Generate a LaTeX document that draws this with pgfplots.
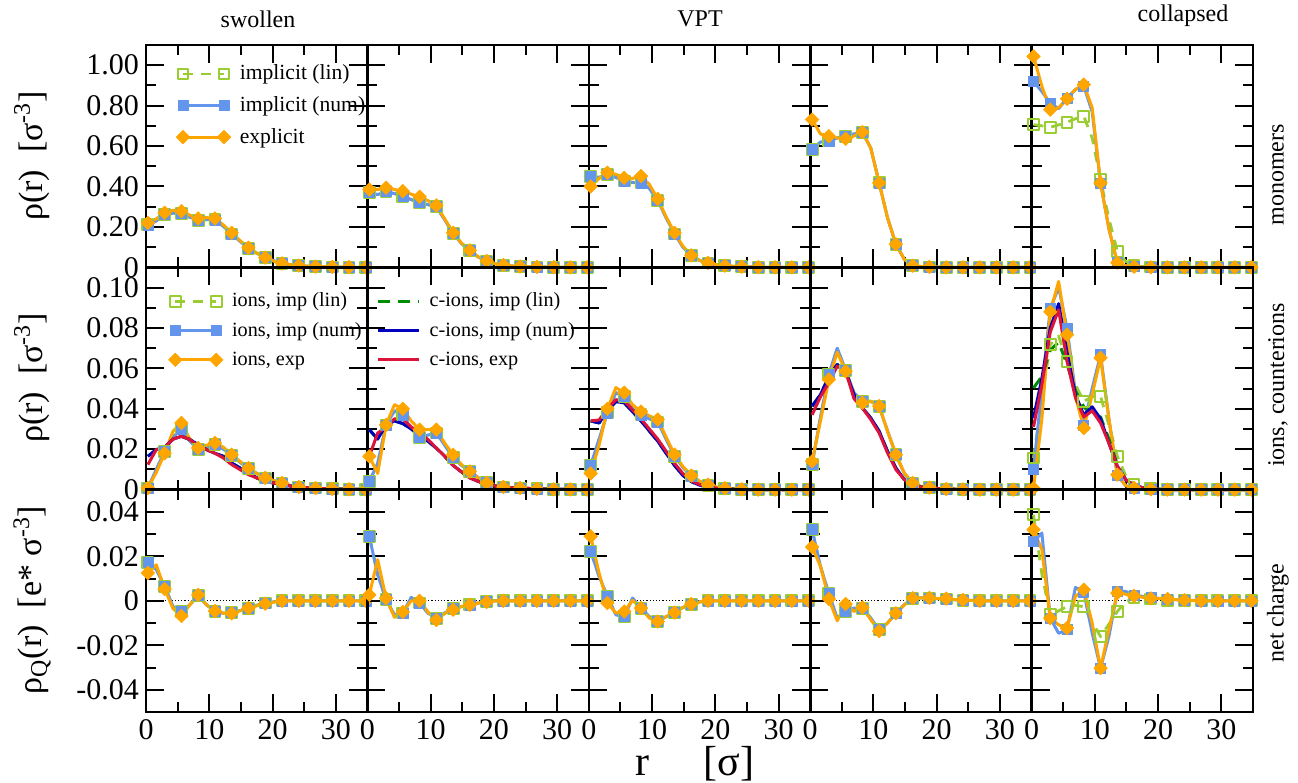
\documentclass[border=0pt]{standalone}
\usepackage{fontspec}
\setmainfont{Liberation Serif}
\usepackage{pgfplots}
\usepackage{pgfplotstable}
\pgfplotsset{compat=1.18}
\definecolor{ygreen}{RGB}{154,205,50}
\definecolor{cblue}{RGB}{100,149,237}
\definecolor{orng}{RGB}{255,165,0}
\definecolor{dgreen}{RGB}{0,140,0}
\definecolor{dblue}{RGB}{0,0,190}
\definecolor{crim}{RGB}{220,20,60}

% ---------- monomers ----------
\pgfplotstableread{
r lin num exp
0.300 0.210 0.210 0.220
1.625 0.230 0.230 0.240
2.950 0.260 0.260 0.270
4.275 0.268 0.268 0.282
5.600 0.265 0.265 0.278
6.925 0.248 0.248 0.258
8.250 0.232 0.232 0.242
9.575 0.236 0.236 0.246
10.900 0.235 0.235 0.242
12.225 0.203 0.203 0.210
13.550 0.165 0.165 0.171
14.875 0.128 0.128 0.132
16.200 0.095 0.095 0.097
17.525 0.070 0.070 0.070
18.850 0.050 0.050 0.048
20.175 0.033 0.033 0.031
21.500 0.020 0.020 0.020
22.825 0.013 0.013 0.013
24.150 0.009 0.009 0.009
25.475 0.006 0.006 0.006
26.800 0.004 0.004 0.004
28.125 0.003 0.003 0.003
29.450 0.002 0.002 0.002
30.775 0.001 0.001 0.001
32.100 0.001 0.001 0.001
33.425 0.000 0.000 0.000
34.750 0.000 0.000 0.000
}\tTa
\pgfplotstableread{
r lin num exp
0.300 0.369 0.369 0.385
1.625 0.360 0.360 0.385
2.950 0.374 0.374 0.394
4.275 0.365 0.365 0.385
5.600 0.352 0.352 0.377
6.925 0.335 0.335 0.362
8.250 0.322 0.322 0.349
9.575 0.310 0.310 0.330
10.900 0.300 0.300 0.306
12.225 0.235 0.235 0.240
13.550 0.168 0.168 0.171
14.875 0.118 0.118 0.120
16.200 0.083 0.083 0.084
17.525 0.051 0.051 0.052
18.850 0.030 0.030 0.031
20.175 0.018 0.018 0.018
21.500 0.011 0.011 0.011
22.825 0.007 0.007 0.007
24.150 0.004 0.004 0.004
25.475 0.003 0.003 0.003
26.800 0.002 0.002 0.002
28.125 0.001 0.001 0.001
29.450 0.001 0.001 0.001
30.775 0.000 0.000 0.000
32.100 0.000 0.000 0.000
33.425 0.000 0.000 0.000
34.750 0.000 0.000 0.000
}\tTb
\pgfplotstableread{
r lin num exp
0.300 0.451 0.451 0.400
1.625 0.445 0.445 0.440
2.950 0.460 0.460 0.468
4.275 0.445 0.445 0.460
5.600 0.427 0.427 0.443
6.925 0.420 0.420 0.440
8.250 0.418 0.418 0.451
9.575 0.390 0.390 0.410
10.900 0.330 0.330 0.339
12.225 0.245 0.245 0.250
13.550 0.165 0.165 0.171
14.875 0.100 0.100 0.105
16.200 0.058 0.058 0.059
17.525 0.034 0.034 0.035
18.850 0.021 0.021 0.022
20.175 0.013 0.013 0.013
21.500 0.008 0.008 0.008
22.825 0.005 0.005 0.005
24.150 0.003 0.003 0.003
25.475 0.002 0.002 0.002
26.800 0.001 0.001 0.001
28.125 0.000 0.000 0.000
29.450 0.000 0.000 0.000
30.775 0.000 0.000 0.000
32.100 0.000 0.000 0.000
33.425 0.000 0.000 0.000
34.750 0.000 0.000 0.000
}\tTc
\pgfplotstableread{
r lin num exp
0.300 0.583 0.583 0.731
1.625 0.620 0.620 0.660
2.950 0.625 0.625 0.649
4.275 0.640 0.640 0.640
5.600 0.649 0.649 0.636
6.925 0.660 0.660 0.650
8.250 0.669 0.669 0.669
9.575 0.590 0.590 0.590
10.900 0.418 0.418 0.418
12.225 0.245 0.245 0.245
13.550 0.114 0.114 0.114
14.875 0.040 0.040 0.040
16.200 0.008 0.008 0.008
17.525 0.004 0.004 0.004
18.850 0.002 0.002 0.002
20.175 0.001 0.001 0.001
21.500 0.000 0.000 0.000
22.825 0.000 0.000 0.000
24.150 0.000 0.000 0.000
25.475 0.000 0.000 0.000
26.800 0.000 0.000 0.000
28.125 0.000 0.000 0.000
29.450 0.000 0.000 0.000
30.775 0.000 0.000 0.000
32.100 0.000 0.000 0.000
33.425 0.000 0.000 0.000
34.750 0.000 0.000 0.000
}\tTd
\pgfplotstableread{
r lin num exp
0.300 0.706 0.920 1.044
1.625 0.700 0.870 0.896
2.950 0.693 0.813 0.780
4.275 0.705 0.785 0.790
5.600 0.718 0.836 0.834
6.925 0.735 0.880 0.880
8.250 0.748 0.897 0.904
9.575 0.640 0.770 0.790
10.900 0.435 0.418 0.418
12.225 0.240 0.190 0.190
13.550 0.080 0.023 0.023
14.875 0.030 0.008 0.008
16.200 0.010 0.003 0.003
17.525 0.004 0.001 0.001
18.850 0.002 0.000 0.000
20.175 0.001 0.000 0.000
21.500 0.000 0.000 0.000
22.825 0.000 0.000 0.000
24.150 0.000 0.000 0.000
25.475 0.000 0.000 0.000
26.800 0.000 0.000 0.000
28.125 0.000 0.000 0.000
29.450 0.000 0.000 0.000
30.775 0.000 0.000 0.000
32.100 0.000 0.000 0.000
33.425 0.000 0.000 0.000
34.750 0.000 0.000 0.000
}\tTe

% ---------- ions, counterions ----------
\pgfplotstableread{
r il in ie cl cn ce
0.300 0.0008 0.0008 0.0008 0.0165 0.0165 0.0124
1.625 0.0100 0.0100 0.0085 0.0198 0.0198 0.0198
2.950 0.0190 0.0190 0.0180 0.0210 0.0210 0.0210
4.275 0.0260 0.0260 0.0289 0.0250 0.0250 0.0250
5.600 0.0300 0.0300 0.0330 0.0264 0.0264 0.0264
6.925 0.0240 0.0240 0.0250 0.0248 0.0248 0.0248
8.250 0.0198 0.0198 0.0206 0.0223 0.0223 0.0215
9.575 0.0210 0.0210 0.0220 0.0198 0.0198 0.0198
10.900 0.0223 0.0223 0.0231 0.0180 0.0180 0.0180
12.225 0.0200 0.0200 0.0210 0.0165 0.0165 0.0157
13.550 0.0170 0.0170 0.0173 0.0132 0.0132 0.0124
14.875 0.0135 0.0135 0.0140 0.0107 0.0107 0.0099
16.200 0.0105 0.0105 0.0107 0.0083 0.0083 0.0074
17.525 0.0080 0.0080 0.0080 0.0058 0.0058 0.0058
18.850 0.0058 0.0058 0.0058 0.0041 0.0041 0.0041
20.175 0.0045 0.0045 0.0045 0.0033 0.0033 0.0033
21.500 0.0033 0.0033 0.0033 0.0025 0.0025 0.0025
22.825 0.0020 0.0020 0.0020 0.0018 0.0018 0.0018
24.150 0.0013 0.0013 0.0013 0.0013 0.0013 0.0013
25.475 0.0010 0.0010 0.0010 0.0010 0.0010 0.0010
26.800 0.0008 0.0008 0.0008 0.0008 0.0008 0.0008
28.125 0.0005 0.0005 0.0005 0.0005 0.0005 0.0005
29.450 0.0004 0.0004 0.0004 0.0004 0.0004 0.0004
30.775 0.0003 0.0003 0.0003 0.0003 0.0003 0.0003
32.100 0.0002 0.0002 0.0002 0.0002 0.0002 0.0002
33.425 0.0001 0.0001 0.0001 0.0001 0.0001 0.0001
34.750 0.0001 0.0001 0.0001 0.0001 0.0001 0.0001
}\tMa
\pgfplotstableread{
r il in ie cl cn ce
0.300 0.0041 0.0041 0.0165 0.0297 0.0297 0.0165
1.625 0.0130 0.0130 0.0080 0.0250 0.0250 0.0280
2.950 0.0320 0.0320 0.0320 0.0320 0.0320 0.0310
4.275 0.0390 0.0390 0.0420 0.0340 0.0340 0.0350
5.600 0.0370 0.0370 0.0400 0.0327 0.0327 0.0350
6.925 0.0300 0.0300 0.0340 0.0300 0.0300 0.0310
8.250 0.0260 0.0260 0.0297 0.0272 0.0272 0.0281
9.575 0.0270 0.0270 0.0297 0.0239 0.0239 0.0248
10.900 0.0280 0.0280 0.0297 0.0206 0.0206 0.0206
12.225 0.0220 0.0220 0.0230 0.0165 0.0165 0.0165
13.550 0.0160 0.0160 0.0173 0.0120 0.0120 0.0120
14.875 0.0120 0.0120 0.0124 0.0088 0.0088 0.0088
16.200 0.0090 0.0090 0.0090 0.0058 0.0058 0.0058
17.525 0.0060 0.0060 0.0058 0.0041 0.0041 0.0041
18.850 0.0035 0.0035 0.0033 0.0026 0.0026 0.0026
20.175 0.0020 0.0020 0.0020 0.0018 0.0018 0.0018
21.500 0.0013 0.0013 0.0013 0.0013 0.0013 0.0013
22.825 0.0010 0.0010 0.0010 0.0010 0.0010 0.0010
24.150 0.0008 0.0008 0.0008 0.0008 0.0008 0.0008
25.475 0.0006 0.0006 0.0006 0.0006 0.0006 0.0006
26.800 0.0004 0.0004 0.0004 0.0004 0.0004 0.0004
28.125 0.0003 0.0003 0.0003 0.0003 0.0003 0.0003
29.450 0.0002 0.0002 0.0002 0.0002 0.0002 0.0002
30.775 0.0001 0.0001 0.0001 0.0001 0.0001 0.0001
32.100 0.0001 0.0001 0.0001 0.0001 0.0001 0.0001
33.425 0.0000 0.0000 0.0000 0.0000 0.0000 0.0000
34.750 0.0000 0.0000 0.0000 0.0000 0.0000 0.0000
}\tMb
\pgfplotstableread{
r il in ie cl cn ce
0.300 0.0120 0.0120 0.0080 0.0340 0.0340 0.0340
1.625 0.0250 0.0250 0.0220 0.0330 0.0330 0.0345
2.950 0.0380 0.0380 0.0400 0.0390 0.0390 0.0400
4.275 0.0480 0.0480 0.0505 0.0435 0.0435 0.0445
5.600 0.0460 0.0460 0.0480 0.0430 0.0430 0.0440
6.925 0.0400 0.0400 0.0420 0.0385 0.0385 0.0395
8.250 0.0370 0.0370 0.0386 0.0340 0.0340 0.0350
9.575 0.0350 0.0350 0.0365 0.0290 0.0290 0.0300
10.900 0.0335 0.0335 0.0347 0.0240 0.0240 0.0250
12.225 0.0250 0.0250 0.0260 0.0180 0.0180 0.0190
13.550 0.0165 0.0165 0.0173 0.0120 0.0120 0.0130
14.875 0.0110 0.0110 0.0115 0.0070 0.0070 0.0080
16.200 0.0068 0.0068 0.0070 0.0040 0.0040 0.0045
17.525 0.0040 0.0040 0.0042 0.0022 0.0022 0.0025
18.850 0.0022 0.0022 0.0025 0.0012 0.0012 0.0014
20.175 0.0012 0.0012 0.0013 0.0006 0.0006 0.0007
21.500 0.0007 0.0007 0.0007 0.0003 0.0003 0.0004
22.825 0.0004 0.0004 0.0004 0.0002 0.0002 0.0002
24.150 0.0002 0.0002 0.0002 0.0001 0.0001 0.0001
25.475 0.0001 0.0001 0.0001 0.0000 0.0000 0.0000
26.800 0.0000 0.0000 0.0000 0.0000 0.0000 0.0000
28.125 0.0000 0.0000 0.0000 0.0000 0.0000 0.0000
29.450 0.0000 0.0000 0.0000 0.0000 0.0000 0.0000
30.775 0.0000 0.0000 0.0000 0.0000 0.0000 0.0000
32.100 0.0000 0.0000 0.0000 0.0000 0.0000 0.0000
33.425 0.0000 0.0000 0.0000 0.0000 0.0000 0.0000
34.750 0.0000 0.0000 0.0000 0.0000 0.0000 0.0000
}\tMc
\pgfplotstableread{
r il in ie cl cn ce
0.300 0.0124 0.0124 0.0140 0.0413 0.0413 0.0370
1.625 0.0360 0.0360 0.0340 0.0470 0.0470 0.0460
2.950 0.0570 0.0570 0.0545 0.0560 0.0560 0.0530
4.275 0.0700 0.0700 0.0680 0.0619 0.0619 0.0611
5.600 0.0590 0.0590 0.0586 0.0586 0.0586 0.0586
6.925 0.0480 0.0480 0.0470 0.0470 0.0470 0.0450
8.250 0.0437 0.0437 0.0430 0.0404 0.0404 0.0404
9.575 0.0437 0.0437 0.0437 0.0355 0.0355 0.0347
10.900 0.0413 0.0413 0.0413 0.0289 0.0289 0.0280
12.225 0.0290 0.0290 0.0289 0.0190 0.0190 0.0182
13.550 0.0173 0.0173 0.0173 0.0107 0.0107 0.0099
14.875 0.0080 0.0080 0.0083 0.0050 0.0050 0.0050
16.200 0.0030 0.0030 0.0033 0.0025 0.0025 0.0025
17.525 0.0015 0.0015 0.0015 0.0013 0.0013 0.0013
18.850 0.0010 0.0010 0.0010 0.0008 0.0008 0.0008
20.175 0.0006 0.0006 0.0006 0.0005 0.0005 0.0005
21.500 0.0003 0.0003 0.0003 0.0003 0.0003 0.0003
22.825 0.0002 0.0002 0.0002 0.0002 0.0002 0.0002
24.150 0.0001 0.0001 0.0001 0.0001 0.0001 0.0001
25.475 0.0000 0.0000 0.0000 0.0000 0.0000 0.0000
26.800 0.0000 0.0000 0.0000 0.0000 0.0000 0.0000
28.125 0.0000 0.0000 0.0000 0.0000 0.0000 0.0000
29.450 0.0000 0.0000 0.0000 0.0000 0.0000 0.0000
30.775 0.0000 0.0000 0.0000 0.0000 0.0000 0.0000
32.100 0.0000 0.0000 0.0000 0.0000 0.0000 0.0000
33.425 0.0000 0.0000 0.0000 0.0000 0.0000 0.0000
34.750 0.0000 0.0000 0.0000 0.0000 0.0000 0.0000
}\tMd
\pgfplotstableread{
r il in ie cl cn ce
0.300 0.0157 0.0099 0.0008 0.0503 0.0355 0.0310
1.625 0.0450 0.0500 0.0350 0.0560 0.0550 0.0520
2.950 0.0718 0.0896 0.0880 0.0690 0.0800 0.0780
4.275 0.0760 0.1000 0.1030 0.0730 0.0920 0.0890
5.600 0.0635 0.0800 0.0767 0.0620 0.0680 0.0635
6.925 0.0520 0.0480 0.0460 0.0490 0.0470 0.0455
8.250 0.0437 0.0320 0.0305 0.0410 0.0370 0.0360
9.575 0.0460 0.0500 0.0470 0.0370 0.0410 0.0390
10.900 0.0462 0.0668 0.0652 0.0360 0.0350 0.0330
12.225 0.0320 0.0350 0.0350 0.0250 0.0230 0.0230
13.550 0.0165 0.0070 0.0074 0.0124 0.0116 0.0116
14.875 0.0070 0.0020 0.0020 0.0050 0.0050 0.0050
16.200 0.0025 0.0008 0.0008 0.0020 0.0020 0.0020
17.525 0.0012 0.0004 0.0004 0.0010 0.0010 0.0010
18.850 0.0005 0.0002 0.0002 0.0005 0.0005 0.0005
20.175 0.0002 0.0001 0.0001 0.0002 0.0002 0.0002
21.500 0.0000 0.0000 0.0000 0.0000 0.0000 0.0000
22.825 0.0000 0.0000 0.0000 0.0000 0.0000 0.0000
24.150 0.0000 0.0000 0.0000 0.0000 0.0000 0.0000
25.475 0.0000 0.0000 0.0000 0.0000 0.0000 0.0000
26.800 0.0000 0.0000 0.0000 0.0000 0.0000 0.0000
28.125 0.0000 0.0000 0.0000 0.0000 0.0000 0.0000
29.450 0.0000 0.0000 0.0000 0.0000 0.0000 0.0000
30.775 0.0000 0.0000 0.0000 0.0000 0.0000 0.0000
32.100 0.0000 0.0000 0.0000 0.0000 0.0000 0.0000
33.425 0.0000 0.0000 0.0000 0.0000 0.0000 0.0000
34.750 0.0000 0.0000 0.0000 0.0000 0.0000 0.0000
}\tMe

% ---------- net charge ----------
\pgfplotstableread{
r lin num exp
0.300 0.0173 0.0173 0.0125
1.625 0.0140 0.0140 0.0162
2.950 0.0065 0.0065 0.0053
4.275 -0.0026 -0.0026 -0.0035
5.600 -0.0048 -0.0048 -0.0068
6.925 -0.0018 -0.0018 -0.0018
8.250 0.0023 0.0023 0.0027
9.575 -0.0018 -0.0018 -0.0018
10.900 -0.0048 -0.0048 -0.0046
12.225 -0.0056 -0.0056 -0.0056
13.550 -0.0053 -0.0053 -0.0056
14.875 -0.0044 -0.0044 -0.0045
16.200 -0.0033 -0.0033 -0.0033
17.525 -0.0020 -0.0020 -0.0022
18.850 -0.0010 -0.0010 -0.0013
20.175 -0.0005 -0.0005 -0.0006
21.500 0.0000 0.0000 0.0000
22.825 0.0000 0.0000 0.0000
24.150 0.0000 0.0000 0.0000
25.475 0.0000 0.0000 0.0000
26.800 0.0000 0.0000 0.0000
28.125 0.0000 0.0000 0.0000
29.450 0.0000 0.0000 0.0000
30.775 0.0000 0.0000 0.0000
32.100 0.0000 0.0000 0.0000
33.425 0.0000 0.0000 0.0000
34.750 0.0000 0.0000 0.0000
}\tBa
\pgfplotstableread{
r lin num exp
0.300 0.0290 0.0290 0.0027
1.625 0.0117 0.0117 0.0185
2.950 0.0005 0.0005 0.0012
4.275 -0.0063 -0.0063 -0.0074
5.600 -0.0055 -0.0055 -0.0050
6.925 0.0015 0.0015 0.0000
8.250 -0.0010 -0.0010 0.0000
9.575 -0.0055 -0.0055 -0.0050
10.900 -0.0078 -0.0078 -0.0086
12.225 -0.0055 -0.0055 -0.0057
13.550 -0.0033 -0.0033 -0.0040
14.875 -0.0026 -0.0026 -0.0026
16.200 -0.0018 -0.0018 -0.0018
17.525 -0.0010 -0.0010 -0.0010
18.850 -0.0003 -0.0003 -0.0005
20.175 0.0000 0.0000 0.0000
21.500 0.0000 0.0000 0.0000
22.825 0.0000 0.0000 0.0000
24.150 0.0000 0.0000 0.0000
25.475 0.0000 0.0000 0.0000
26.800 0.0000 0.0000 0.0000
28.125 0.0000 0.0000 0.0000
29.450 0.0000 0.0000 0.0000
30.775 0.0000 0.0000 0.0000
32.100 0.0000 0.0000 0.0000
33.425 0.0000 0.0000 0.0000
34.750 0.0000 0.0000 0.0000
}\tBb
\pgfplotstableread{
r lin num exp
0.300 0.0222 0.0222 0.0290
1.625 0.0110 0.0110 0.0125
2.950 0.0019 0.0019 -0.0010
4.275 -0.0063 -0.0063 -0.0055
5.600 -0.0071 -0.0071 -0.0048
6.925 0.0012 0.0012 0.0002
8.250 -0.0033 -0.0033 -0.0033
9.575 -0.0071 -0.0071 -0.0078
10.900 -0.0093 -0.0093 -0.0093
12.225 -0.0071 -0.0071 -0.0071
13.550 -0.0053 -0.0053 -0.0053
14.875 -0.0030 -0.0030 -0.0030
16.200 -0.0015 -0.0015 -0.0015
17.525 -0.0005 -0.0005 -0.0005
18.850 0.0000 0.0000 0.0000
20.175 0.0000 0.0000 0.0000
21.500 0.0000 0.0000 0.0000
22.825 0.0000 0.0000 0.0000
24.150 0.0000 0.0000 0.0000
25.475 0.0000 0.0000 0.0000
26.800 0.0000 0.0000 0.0000
28.125 0.0000 0.0000 0.0000
29.450 0.0000 0.0000 0.0000
30.775 0.0000 0.0000 0.0000
32.100 0.0000 0.0000 0.0000
33.425 0.0000 0.0000 0.0000
34.750 0.0000 0.0000 0.0000
}\tBc
\pgfplotstableread{
r lin num exp
0.300 0.0320 0.0320 0.0242
1.625 0.0155 0.0155 0.0155
2.950 0.0032 0.0032 0.0008
4.275 -0.0078 -0.0078 -0.0090
5.600 -0.0048 -0.0048 -0.0014
6.925 -0.0033 -0.0033 -0.0048
8.250 -0.0033 -0.0033 -0.0030
9.575 -0.0078 -0.0078 -0.0085
10.900 -0.0130 -0.0130 -0.0136
12.225 -0.0100 -0.0100 -0.0100
13.550 -0.0055 -0.0055 -0.0056
14.875 -0.0018 -0.0018 -0.0018
16.200 0.0012 0.0012 0.0012
17.525 0.0013 0.0013 0.0013
18.850 0.0013 0.0013 0.0013
20.175 0.0010 0.0010 0.0010
21.500 0.0008 0.0008 0.0010
22.825 0.0005 0.0005 0.0006
24.150 0.0003 0.0003 0.0004
25.475 0.0002 0.0002 0.0002
26.800 0.0000 0.0000 0.0000
28.125 0.0000 0.0000 0.0000
29.450 0.0000 0.0000 0.0000
30.775 0.0000 0.0000 0.0000
32.100 0.0000 0.0000 0.0000
33.425 0.0000 0.0000 0.0000
34.750 0.0000 0.0000 0.0000
}\tBd
\pgfplotstableread{
r lin num exp
0.300 0.0387 0.0267 0.0320
1.625 0.0120 0.0305 0.0230
2.950 -0.0063 -0.0078 -0.0078
4.275 -0.0045 -0.0146 -0.0108
5.600 -0.0026 -0.0130 -0.0123
6.925 -0.0020 0.0060 0.0020
8.250 -0.0027 0.0040 0.0050
9.575 -0.0095 -0.0145 -0.0100
10.900 -0.0161 -0.0303 -0.0303
12.225 -0.0105 -0.0160 -0.0130
13.550 -0.0048 0.0042 0.0035
14.875 -0.0005 0.0042 0.0030
16.200 0.0015 0.0027 0.0022
17.525 0.0010 0.0020 0.0016
18.850 0.0008 0.0015 0.0011
20.175 0.0005 0.0011 0.0010
21.500 0.0003 0.0008 0.0008
22.825 0.0002 0.0005 0.0005
24.150 0.0001 0.0003 0.0003
25.475 0.0000 0.0002 0.0001
26.800 0.0000 0.0000 0.0000
28.125 0.0000 0.0000 0.0000
29.450 0.0000 0.0000 0.0000
30.775 0.0000 0.0000 0.0000
32.100 0.0000 0.0000 0.0000
33.425 0.0000 0.0000 0.0000
34.750 0.0000 0.0000 0.0000
}\tBe

\pgfplotsset{
  base/.style={
    scale only axis, width=110.7pt, height=111.17pt, anchor=south west,
    xmin=0, xmax=35, xtick={0,10,20,30}, minor xtick={5,15,25},
    xticklabels={}, yticklabels={},
    scaled y ticks=false, scaled x ticks=false,
    tick align=inside, xtick pos=both, ytick pos=both,
    major tick length=9pt, minor tick length=5pt,
    tick style={black, line width=1pt},
    axis line style={line width=1.3pt},
    clip=false,
    ticklabel style={font=\fontsize{15}{15}\selectfont},
    legend cell align=left,
    legend image code/.code={\draw[##1,mark repeat=1,mark phase=1] plot coordinates {(0cm,0cm) (0.72cm,0cm)};},
  },
  rowA/.style={ymin=0, ymax=1.1, ytick={0,0.2,0.4,0.6,0.8,1.0}, minor ytick={0.1,0.3,0.5,0.7,0.9}},
  rowB/.style={ymin=0, ymax=0.11, ytick={0,0.02,0.04,0.06,0.08,0.10}, minor ytick={0.01,0.03,0.05,0.07,0.09}},
  rowC/.style={ymin=-0.05, ymax=0.05, ytick={-0.04,-0.02,0,0.02,0.04}, minor ytick={-0.03,-0.01,0.01,0.03}},
  pLin/.style={ygreen, line width=1.4pt, dash pattern=on 5pt off 4pt, mark=square, mark size=2.7pt,
    mark options={solid, fill=white, line width=1pt}, mark repeat=2, mark phase=1, line join=round},
  pNum/.style={cblue, line width=1.5pt, mark=square*, mark size=2.5pt, mark options={solid, line width=0.3pt},
    mark repeat=2, mark phase=1, line join=round},
  pExp/.style={orng, line width=1.5pt, mark=square*, mark size=2.4pt, mark options={solid, rotate=45, line width=0.3pt},
    mark repeat=2, mark phase=1, line join=round},
  cLin/.style={dgreen, line width=1.5pt, dash pattern=on 6pt off 4pt, line join=round},
  cNum/.style={dblue, line width=1.5pt, line join=round},
  cExp/.style={crim, line width=1.5pt, line join=round},
  lgd/.style 2 args={legend style={draw=none, fill=none, font=\fontsize{#1}{12.5}\selectfont,
    /tikz/column sep=2.5pt, /tikz/row sep=#2, inner sep=0pt, anchor=north west}},
}
\newcommand{\monoplots}[1]{%
  \addplot[pLin] table[x=r,y=lin]{#1};
  \addplot[pNum] table[x=r,y=num]{#1};
  \addplot[pExp] table[x=r,y=exp]{#1};
}
\newcommand{\chargeplots}[1]{%
  \addplot[black, line width=0.6pt, densely dotted, forget plot] coordinates {(0,0) (35,0)};
  \addplot[pLin] table[x=r,y=lin]{#1};
  \addplot[pNum] table[x=r,y=num]{#1};
  \addplot[pExp] table[x=r,y=exp]{#1};
}
\newcommand{\ionplots}[3]{%
  \addplot[pLin,#2] table[x=r,y=il]{#1};
  \addplot[pNum,#2] table[x=r,y=in]{#1};
  \addplot[pExp,#2] table[x=r,y=ie]{#1};
  \addplot[cLin,#3] table[x=r,y=cl]{#1};
  \addplot[cNum,#3] table[x=r,y=cn]{#1};
  \addplot[cExp,#3] table[x=r,y=ce]{#1};
}

\begin{document}
\begin{tikzpicture}
\useasboundingbox (0,0) rectangle (649pt,391.5pt);

% ---- row A: monomers ----
\begin{axis}[base,rowA,at={(73pt,257.83pt)},
  yticklabels={0,0.20,0.40,0.60,0.80,1.00},
  lgd={10.8}{2.8pt}, legend style={at={(0.135,0.93)}}]
\monoplots{\tTa}
\legend{implicit (lin),implicit (num),explicit}
\end{axis}
\begin{axis}[base,rowA,at={(183.7pt,257.83pt)}]
\monoplots{\tTb}
\end{axis}
\begin{axis}[base,rowA,at={(294.4pt,257.83pt)}]
\monoplots{\tTc}
\end{axis}
\begin{axis}[base,rowA,at={(405.1pt,257.83pt)}]
\monoplots{\tTd}
\end{axis}
\begin{axis}[base,rowA,at={(515.8pt,257.83pt)}]
\monoplots{\tTe}
\end{axis}

% ---- row B: ions ----
\begin{axis}[base,rowB,at={(73pt,146.67pt)},
  yticklabels={0,0.02,0.04,0.06,0.08,0.10},
  lgd={10.1}{2.2pt}, legend style={at={(0.1,0.905)}}]
\ionplots{\tMa}{}{forget plot}
\legend{{ions, imp (lin)},{ions, imp (num)},{ions, exp}}
\end{axis}
\begin{axis}[base,rowB,at={(183.7pt,146.67pt)},
  lgd={10.1}{2.2pt}, legend style={at={(0.04,0.905)}}]
\ionplots{\tMb}{forget plot}{}
\legend{{c-ions, imp (lin)},{c-ions, imp (num)},{c-ions, exp}}
\end{axis}
\begin{axis}[base,rowB,at={(294.4pt,146.67pt)}]
\ionplots{\tMc}{}{}
\end{axis}
\begin{axis}[base,rowB,at={(405.1pt,146.67pt)}]
\ionplots{\tMd}{}{}
\end{axis}
\begin{axis}[base,rowB,at={(515.8pt,146.67pt)}]
\ionplots{\tMe}{}{}
\end{axis}

% ---- row C: net charge ----
\begin{axis}[base,rowC,at={(73pt,35.5pt)},
  yticklabels={-0.04,-0.02,0,0.02,0.04}, xticklabels={0,10,20,30}]
\chargeplots{\tBa}
\end{axis}
\begin{axis}[base,rowC,at={(183.7pt,35.5pt)}, xticklabels={0,10,20,30}]
\chargeplots{\tBb}
\end{axis}
\begin{axis}[base,rowC,at={(294.4pt,35.5pt)}, xticklabels={0,10,20,30}]
\chargeplots{\tBc}
\end{axis}
\begin{axis}[base,rowC,at={(405.1pt,35.5pt)}, xticklabels={0,10,20,30}]
\chargeplots{\tBd}
\end{axis}
\begin{axis}[base,rowC,at={(515.8pt,35.5pt)}, xticklabels={0,10,20,30}]
\chargeplots{\tBe}
\end{axis}

% ---- titles and labels ----
\node[anchor=base, font=\fontsize{12}{14}\selectfont] at (129pt,377.5pt) {swollen};
\node[anchor=base, font=\fontsize{12}{14}\selectfont] at (350pt,378pt) {VPT};
\node[anchor=base, font=\fontsize{12}{14}\selectfont] at (591.5pt,380.5pt) {collapsed};
\node[rotate=90, font=\fontsize{12}{14}\selectfont] at (639pt,304pt) {monomers};
\node[rotate=90, font=\fontsize{12}{14}\selectfont] at (639pt,199pt) {ions, counterions};
\node[rotate=90, font=\fontsize{12}{14}\selectfont] at (639pt,85pt) {net charge};
\node[rotate=90, font=\fontsize{17}{19}\selectfont] at (16pt,313.5pt) {ρ(r)\hspace{0.5em}[σ\textsuperscript{-3}]};
\node[rotate=90, font=\fontsize{17}{19}\selectfont] at (16pt,202.5pt) {ρ(r)\hspace{0.5em}[σ\textsuperscript{-3}]};
\node[rotate=90, font=\fontsize{17}{19}\selectfont] at (16pt,91.5pt) {ρ\textsubscript{Q}(r)\hspace{0.5em}[e* σ\textsuperscript{-3}]};
\node[inner sep=0pt, font=\fontsize{21}{23}\selectfont] at (347.5pt,9.5pt) {r\hspace{1.3em}[σ]};
\end{tikzpicture}
\end{document}
